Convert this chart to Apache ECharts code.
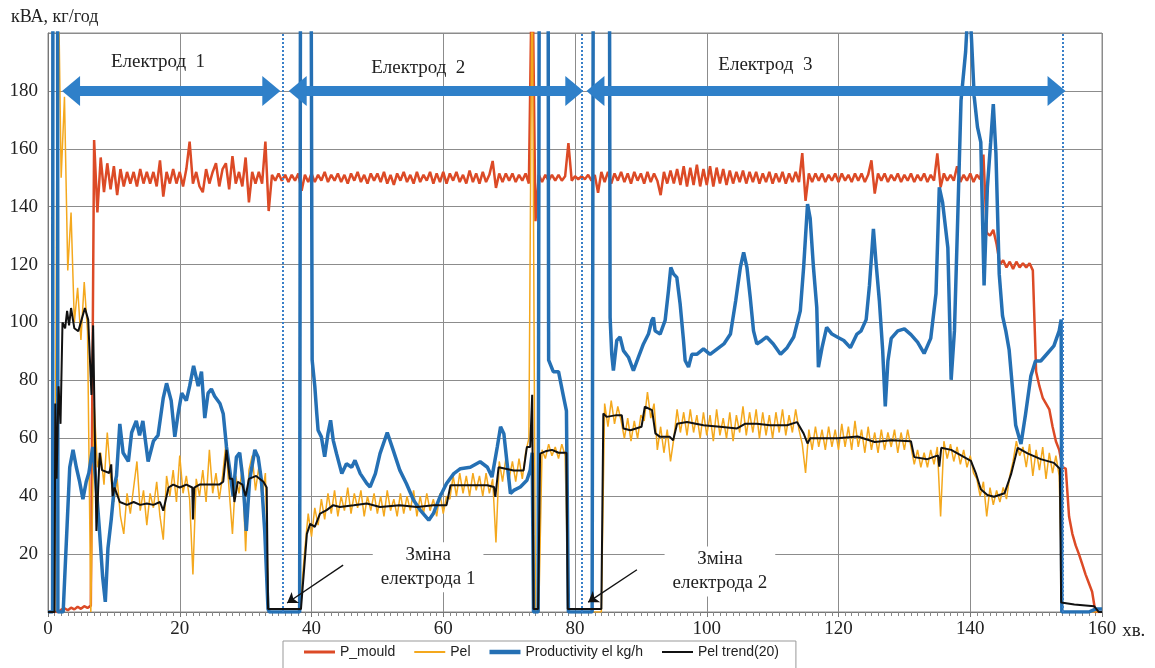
<!DOCTYPE html>
<html>
<head>
<meta charset="utf-8">
<title>Електроди</title>
<script src="https://cdn.jsdelivr.net/npm/echarts@6/dist/echarts.min.js"></script>
<style>
  html, body { margin: 0; padding: 0; background: #fff; }
  #main { width: 1155px; height: 668px; }
</style>
</head>
<body>
<div id="main"></div>
<script>
// time axis, minutes; Pel and P_mould are sampled every 0.5 min from 0 to 160
const sampleStep = 0.5;
const xMax = 160;
const yMax = 200;
const tickStep = 20;

// P_mould, one row = 5 min
const pMould = [
  0, 0, 0, 0, 0.8, 1.3, 0.6, 1.5, 0.9, 1.8,
  1.1, 2.0, 1.4, 2.2, 163, 138, 157, 145, 155, 146,
  154, 144, 153, 147, 152, 148, 152, 147, 153, 148,
  152, 148, 152, 147, 156, 143.5, 152, 148, 153, 148,
  152, 147, 153, 162.5, 148, 152, 147, 145, 153, 148,
  152, 155, 147, 153, 155, 146, 157.5, 148, 152, 147,
  157, 141.5, 152, 148, 152, 148, 162.5, 138.5, 151, 149,
  151.5, 149, 151, 148.5, 151, 149, 151.5, 145.5, 151, 148.5,
  151.5, 148.5, 151, 149, 152, 148.5, 151, 149, 151.5, 148.5,
  151, 148, 151.5, 149, 152, 148.5, 151, 148, 151.5, 149,
  151.5, 148.5, 152, 148, 151, 147.5, 151.5, 149, 152, 148.5,
  151, 148, 152, 148.5, 151, 149, 152, 148, 151.5, 148.5,
  152, 148, 151.5, 149, 152, 148.5, 151, 148, 152.5, 148.5,
  151.5, 148, 152, 148.5, 151, 155.8, 146.5, 151.5, 148.5, 151.5,
  149, 151.5, 148.5, 151, 149, 151.5, 148, 230, 135, 151,
  148.5, 151, 149, 151, 149, 151, 149, 150.5, 162, 149,
  150.5, 149.5, 150.5, 149.5, 151, 149, 151, 144.8, 152, 148.5,
  152, 148, 151.5, 149, 152, 148.5, 151.5, 148, 152, 149,
  151.5, 148, 152, 148.5, 151.5, 149, 144, 152, 148, 152.5,
  148, 153, 147.5, 154, 147, 153.5, 147.5, 154.5, 147, 153,
  147.5, 154, 147, 153.5, 148, 153, 147.5, 152.5, 148, 152,
  148.5, 152.5, 148, 152, 148.5, 152, 148, 151.5, 148.5, 152,
  148, 151.5, 148.5, 152, 148, 151.5, 148.5, 152, 148.5, 158.5,
  142, 151.5, 148.5, 151.5, 149, 151.5, 148.5, 151, 149, 151.5,
  148.5, 151.5, 149, 151, 148.5, 151.5, 149, 151.5, 148.5, 151,
  156, 144.5, 151.5, 149, 151.5, 148.5, 151, 149, 151.5, 148.5,
  151, 149, 151.5, 148.5, 151, 149, 151.5, 148.5, 151, 149,
  158.4, 146.7, 151.5, 149, 151, 149, 154, 148.5, 151, 149,
  151.5, 148.5, 151, 149.5, 158, 131, 130, 132, 127, 120,
  121.5, 119, 121, 118.5, 121, 119, 120.5, 119, 120.5, 118,
  83, 78, 74, 72, 70, 64, 59, 56, 50, 49.5,
  33, 27, 23, 20, 16.5, 13, 10, 7, 0, 0,
  0
];

// Pel, one row = 5 min
const pel = [
  0, 0, 0, 230, 150, 178, 118, 138, 100, 112,
  94, 114, 97, 0, 72, 50, 55, 44, 62, 47,
  38, 46, 33, 27, 41, 34, 43, 52, 35, 42,
  30, 41, 36, 45, 33, 25, 47, 40, 49, 38,
  54, 41, 47, 39, 13, 46, 40, 49, 38, 56,
  41, 48, 39, 47, 58, 42, 27, 47, 41, 50,
  21, 49, 54, 42, 50, 40, 48, 0, 0, 0,
  0, 0, 0, 0, 0, 0, 0, 8, 22, 34,
  26, 36, 30, 39, 32, 41, 34, 42, 33, 40,
  35, 43, 34, 41, 36, 42, 33, 40, 35, 41,
  34, 40, 33, 42, 35, 39, 33, 41, 34, 40,
  35, 42, 33, 40, 34, 41, 35, 39, 33, 41,
  34, 40, 39, 47, 40, 48, 41, 47, 40, 48,
  42, 47, 40, 48, 41, 46, 24, 52, 45, 53,
  46, 52, 45, 53, 46, 55, 60, 230, 0, 0,
  56, 53, 58, 54, 57, 53, 58, 54, 0, 0,
  0, 0, 0, 0, 0, 0, 0, 0, 0, 72,
  64, 73, 65, 71, 66, 60, 67, 59, 66, 60,
  68, 66, 76, 67, 72, 56, 64, 55, 63, 52,
  60, 70, 62, 69, 61, 70, 62, 68, 60, 69,
  61, 68, 59, 70, 61, 67, 60, 69, 59, 68,
  62, 71, 61, 69, 62, 70, 60, 69, 61, 68,
  60, 69, 62, 70, 61, 68, 62, 70, 63, 58,
  48, 63, 56, 64, 57, 63, 56, 64, 57, 63,
  56, 65, 57, 64, 56, 66, 57, 63, 55, 64,
  56, 62, 55, 63, 56, 62, 57, 63, 55, 62,
  56, 63, 57, 51, 56, 50, 55, 50, 56, 51,
  57, 33, 59, 53, 58, 52, 57, 51, 56, 50,
  54, 48, 46, 40, 45, 33, 43, 37, 42, 38,
  43, 39, 47, 52, 59, 54, 57, 50, 58, 47,
  56, 49, 57, 46, 55, 48, 54, 47, 0, 0,
  0, 0, 0, 0, 0, 0, 0, 0, 0, 0,
  0
];

// Productivity el kg/h  [min, kg/h]  (values above 200 run off the top)
const productivity = [
  [0, 0], [0.7, 0], [0.75, 260], [1.45, 260], [1.5, 0], [2.3, 0], [2.9, 30], [3.3, 50], [3.8, 56],
  [4.3, 50], [4.8, 45], [5.3, 39], [5.8, 45], [6.2, 48], [6.8, 57], [7.3, 44], [7.85, 27], [8.3, 12],
  [8.7, 3.5], [9.1, 22], [9.6, 32], [10.1, 44], [10.4, 47], [10.9, 65], [11.4, 55], [12.2, 52],
  [12.7, 62], [13.4, 66], [13.9, 61], [14.4, 66], [15.2, 52], [16, 59], [16.7, 61], [17.5, 74],
  [18, 79], [18.7, 73], [19.25, 60.5], [19.75, 68.5], [20.3, 75.6], [21, 73], [21.5, 78], [22.1, 85],
  [22.8, 78], [23.3, 83], [23.8, 67], [24.3, 75.6], [24.8, 77], [25.3, 74.5], [26.1, 72], [26.6, 68.5],
  [27.1, 57], [27.6, 49], [28.1, 40], [28.6, 53.5], [29.1, 55], [29.6, 45.5], [30.1, 28], [30.6, 45.5],
  [31.4, 56], [31.9, 53.5], [32.4, 45.5], [32.9, 28], [33.4, 1], [33.6, 0],
  [38.2, 0], [38.35, 260], [39.9, 260], [40.1, 87], [40.5, 78], [40.8, 68.5], [41, 62.8], [41.5, 60.5],
  [42, 53.6], [42.5, 61.6], [42.9, 66.2], [43.3, 59.3], [43.8, 54.7], [44.6, 47.8], [45.3, 51.2],
  [46.1, 50], [46.6, 52.4], [47.4, 47.8], [48.4, 44.4], [48.9, 43.2], [49.7, 47.8], [50.4, 54.7],
  [51.5, 62], [52.4, 55.9], [53.4, 49], [54.4, 44.4], [55.5, 38.6], [56.5, 35.2], [57.8, 31.7],
  [58.5, 34], [59.5, 39.8], [60.5, 44.4], [61.6, 47.8], [62.6, 49.5], [64.1, 50], [65.6, 51.9],
  [66.7, 50], [67.4, 46.6], [68.2, 57], [68.7, 64], [69.2, 61.6], [69.7, 51.2], [70.2, 40.9],
  [70.7, 42], [71.7, 43.2], [72.7, 45.5], [73.2, 49], [73.5, 55], [73.7, 0], [74.4, 0], [74.6, 260],
  [75.9, 260], [76, 87], [76.7, 83], [77.5, 83], [78.2, 75], [78.7, 69.5], [79, 0],
  [82.6, 0], [82.8, 260], [85.2, 260], [85.33, 101.7], [85.58, 89], [85.83, 83.4], [86.34, 93.8],
  [86.84, 95], [87.35, 90.3], [88.11, 88], [88.87, 83.4], [89.63, 88], [90.39, 92.6], [91.15, 96],
  [91.66, 100.7], [91.91, 101.7], [92.16, 97.1], [92.92, 96], [93.68, 100.7], [94.19, 111],
  [94.54, 119], [94.95, 116.8], [95.45, 115.6], [95.96, 106.4], [96.47, 93.8], [96.72, 86.9],
  [97.23, 84.6], [97.73, 89], [98.49, 89], [99.5, 90.9], [100.5, 89], [101.6, 90.9], [102.6, 92.6],
  [103.6, 96], [104.4, 107.6], [105.1, 119], [105.6, 124.2], [106.1, 119], [106.6, 108.7],
  [107.1, 97.1], [107.6, 92.6], [108.4, 93.8], [109.1, 95], [110.1, 92.6], [111.2, 89], [112.2, 91.3],
  [113.2, 95], [114.2, 104], [114.7, 118.9], [115.3, 140.9], [115.7, 136], [116.2, 119], [116.7, 105.2],
  [116.95, 84.6], [117.5, 91.3], [118.2, 98.3], [119, 96], [119.8, 95], [120.8, 93.8], [121.8, 91.3],
  [122.8, 96], [123.4, 97], [124.2, 101], [124.7, 112.8], [125.3, 132.3], [125.7, 120.6],
  [126.2, 107.6], [126.7, 90.6], [127.1, 71], [127.5, 86.7], [128, 94.5], [129, 97.1], [130, 97.8],
  [131, 95.8], [132, 93.2], [133, 89.3], [134, 94.5], [134.8, 110], [135.3, 146.7], [135.8, 141.5],
  [136.6, 125.8], [137.1, 80.2], [137.6, 97.1], [138.1, 136.2], [138.6, 176.7], [139.3, 193.6],
  [139.8, 215], [140.2, 197.5], [140.6, 178], [141.1, 167.5], [141.6, 162.3], [142.1, 112.8],
  [142.6, 146.7], [143.1, 162.3], [143.5, 175.4], [143.9, 158.4], [144.4, 116.7], [144.9, 102.3],
  [145.4, 97.1], [145.9, 90.6], [146.4, 77.6], [146.9, 64.5], [147.7, 58], [148.4, 68.4],
  [149.2, 81.5], [149.9, 86.7], [150.7, 86.7], [151.7, 89.3], [152.7, 91.9], [153.5, 97.1],
  [153.8, 101], [153.9, 0], [158, 0], [159, 1], [160, 1]
];

// Pel trend(20)  [min, kVA]
const pelTrend = [
  [0, 0], [1.0, 0], [1.1, 72], [1.3, 46], [1.6, 78], [1.9, 65], [2.2, 100], [2.6, 98], [2.9, 104],
  [3.2, 99], [3.5, 105], [4.0, 98], [4.6, 97], [5.1, 101], [5.6, 105], [6.1, 101], [6.35, 88],
  [6.6, 75], [6.85, 99], [7.1, 63], [7.35, 28], [7.85, 55], [8.2, 49], [9.3, 48], [9.6, 51],
  [9.8, 40], [10.1, 43], [10.9, 38], [12, 37], [13, 38], [14, 37], [15, 37.5], [16, 37], [17, 38],
  [17.5, 35], [18.3, 43], [19, 44], [20, 43], [21, 44], [21.9, 43], [22.0, 32], [22.2, 43], [23, 44],
  [24, 44], [25, 44], [26, 44], [26.6, 45], [27.1, 56], [27.6, 46], [28.0, 46], [28.3, 38], [28.8, 45],
  [29.5, 44], [30, 40], [30.5, 46], [31.6, 47], [32.7, 45], [33.2, 43], [33.4, 1], [38.4, 1],
  [39.3, 27], [39.8, 30.5], [40.5, 29.4], [41.3, 34], [42.3, 35.2], [43.3, 36.9], [44.3, 36.3],
  [46.4, 36.9], [48.4, 37.5], [50.4, 36.3], [53.4, 36.9], [56, 36.3], [58.5, 36.9], [60.5, 36.9],
  [61.1, 43.8], [63.6, 43.8], [66.7, 43.8], [67.7, 43.2], [67.9, 39.8], [68.4, 50], [70.7, 48.9],
  [72.2, 48.9], [72.7, 57], [73.2, 57], [73.5, 75], [73.7, 1], [74.4, 1], [74.7, 54.7], [75.5, 55.5],
  [76.5, 56], [77.5, 55], [78.7, 55], [78.9, 1], [84.0, 1], [84.3, 68.6], [84.8, 67.4], [86.3, 68],
  [87.1, 68], [87.35, 63.4], [88.4, 62.8], [90.1, 64], [90.6, 70.9], [91.7, 69.7], [92.2, 61.7],
  [92.9, 60.5], [94.4, 60.5], [94.9, 59.3], [95.5, 65], [97, 65.6], [99.5, 64.5], [102, 64],
  [104.6, 63.4], [105.8, 65], [107.6, 65], [109.6, 64.5], [112.2, 64.5], [113.7, 65.6], [114.7, 61.7],
  [115.3, 58.2], [115.7, 60], [117.7, 60], [119.8, 60], [122.9, 60.6], [125.5, 58.7], [128, 59.3],
  [131, 59], [131.5, 53.5], [133.5, 52.8], [135.1, 54.1], [135.3, 50.2], [135.6, 56.7], [137.1, 56],
  [138.6, 54.1], [140.1, 52.2], [140.9, 47.6], [141.6, 42.4], [142.6, 40.4], [143.6, 39.8],
  [145.2, 41], [146.2, 47.6], [147.2, 56.7], [148.7, 54.8], [150.7, 52.8], [152.7, 51.5],
  [153.6, 49.5], [153.8, 3.3], [155.8, 2.6], [158.8, 2], [159.5, 0], [160, 0]
];

// annotations
const electrodeNames = ['Електрод  1', 'Електрод  2', 'Електрод  3'];
const electrodeSpans = [[2.2, 35.2], [36.6, 81.2], [81.8, 154.4]];
const electrodeLabelPos = [[16.7, 190], [56.2, 188], [108.9, 189]];
const arrowLevel = 180;
const changeTimes = [35.7, 81.1, 154.1];
const changeNotes = ['Зміна\nелектрода 1', 'Зміна\nелектрода 2'];
const changeNotePos = [[57.7, 15.5], [102, 14]];
const changePointers = [[[44.8, 16.2], [36.3, 3.1]], [[89.4, 14.6], [82, 3.4]]];

function sampled(values) {
  return values.map(function (v, i) { return [i * sampleStep, v]; });
}

const serif = 'Liberation Serif';
const gridColor = '#8c8c8c';
const headInset = 1.3; // arrow heads are centred on the end point

var chart = echarts.init(document.getElementById('main'), null, { renderer: 'canvas' });

var arrowData = electrodeSpans.map(function (s) {
  return [{ coord: [s[0] + headInset, arrowLevel] }, { coord: [s[1] - headInset, arrowLevel] }];
});
var dottedData = changeTimes.map(function (t) { return { xAxis: t }; });
var pointerData = changePointers.map(function (p) {
  return [{ coord: p[0] }, { coord: p[1] }];
});

var option = {
  animation: false,
  backgroundColor: '#fff',
  title: {
    text: 'кВА, кг/год',
    left: 6,
    top: 3,
    textStyle: { fontFamily: serif, fontSize: 18, fontWeight: 'normal', color: '#222' }
  },
  grid: {
    left: 48, right: 53, top: 33, bottom: 56,
    show: true, borderColor: gridColor, borderWidth: 1
  },
  legend: {
    // flat line icons of different thickness
    data: [
      { name: 'P_mould', icon: 'path://M0,0H31V3H0Z' },
      { name: 'Pel', icon: 'path://M0,0H31V2H0Z' },
      { name: 'Productivity el kg/h', icon: 'path://M0,0H31V4.5H0Z' },
      { name: 'Pel trend(20)', icon: 'path://M0,0H31V2H0Z' }
    ],
    left: 283,
    top: 641,
    padding: [4, 17, 14, 21],
    itemGap: 19,
    itemWidth: 31,
    itemHeight: 14,
    symbolKeepAspect: true,
    borderColor: '#999',
    borderWidth: 1,
    textStyle: { fontFamily: 'Liberation Sans', fontSize: 14, color: '#222' }
  },
  xAxis: {
    type: 'value',
    min: 0,
    max: xMax,
    interval: tickStep,
    name: 'хв.',
    nameLocation: 'end',
    nameGap: 20,
    nameTextStyle: { fontFamily: serif, fontSize: 19, color: '#222', verticalAlign: 'top', padding: [10, 0, 0, 0] },
    axisLine: { lineStyle: { color: '#777' } },
    axisTick: { show: true, length: 5, lineStyle: { color: '#777' } },
    minorTick: { show: true, splitNumber: 20, length: 4, lineStyle: { color: '#888' } },
    axisLabel: { fontFamily: serif, fontSize: 19, color: '#222', margin: 8 },
    splitLine: { show: true, lineStyle: { color: gridColor, width: 1 } }
  },
  yAxis: {
    type: 'value',
    min: 0,
    max: yMax,
    interval: tickStep,
    axisLine: { show: true, lineStyle: { color: '#777' } },
    axisTick: { show: false },
    axisLabel: {
      fontFamily: serif, fontSize: 19, color: '#222', margin: 10,
      showMinLabel: false, showMaxLabel: false
    },
    splitLine: { show: true, lineStyle: { color: gridColor, width: 1 } }
  },
  series: [
    {
      name: 'P_mould', type: 'line', data: sampled(pMould),
      showSymbol: false, symbol: 'none', z: 2,
      lineStyle: { color: '#dc4a26', width: 2.5 }, itemStyle: { color: '#dc4a26' }
    },
    {
      name: 'Pel', type: 'line', data: sampled(pel),
      showSymbol: false, symbol: 'none', z: 3,
      lineStyle: { color: '#f4a81d', width: 1.5 }, itemStyle: { color: '#f4a81d' }
    },
    {
      name: 'Productivity el kg/h', type: 'line', data: productivity,
      showSymbol: false, symbol: 'none', z: 4,
      lineStyle: { color: '#2570b4', width: 3.5 }, itemStyle: { color: '#2570b4' }
    },
    {
      name: 'Pel trend(20)', type: 'line', data: pelTrend,
      showSymbol: false, symbol: 'none', z: 5,
      lineStyle: { color: '#111', width: 2 }, itemStyle: { color: '#111' }
    },
    {
      // dotted lines at the electrode changes
      name: 'marks', type: 'line', data: [], z: 6,
      markLine: {
        silent: true,
        animation: false,
        symbol: ['none', 'none'],
        label: { show: false },
        lineStyle: { color: '#3a80c8', width: 2, type: 'dotted' },
        data: dottedData
      }
    },
    {
      name: 'arrows', type: 'line', data: [], z: 7,
      markLine: {
        silent: true,
        animation: false,
        symbol: ['triangle', 'triangle'],
        symbolSize: [30, 18],
        label: { show: false },
        lineStyle: { color: '#2f80c9', width: 10, type: 'solid', opacity: 1 },
        itemStyle: { color: '#2f80c9' },
        data: arrowData
      },
      markPoint: {
        silent: true,
        animation: false,
        symbol: 'rect',
        symbolSize: 1,
        itemStyle: { color: 'rgba(0,0,0,0)' },
        label: {
          show: true, position: 'inside', formatter: '{b}',
          fontFamily: serif, fontSize: 19, color: '#222'
        },
        data: electrodeNames.map(function (n, i) { return { name: n, coord: electrodeLabelPos[i] }; })
      }
    },
    {
      name: 'notes', type: 'line', data: [], z: 9,
      markLine: {
        silent: true,
        animation: false,
        symbol: ['none', 'arrow'],
        symbolSize: 10,
        label: { show: false },
        lineStyle: { color: '#111', width: 1.3, type: 'solid' },
        itemStyle: { color: '#111' },
        data: pointerData
      },
      markPoint: {
        silent: true,
        animation: false,
        symbol: 'rect',
        symbolSize: 1,
        itemStyle: { color: 'rgba(0,0,0,0)' },
        label: {
          show: true, position: 'inside', formatter: '{b}',
          fontFamily: serif, fontSize: 19, lineHeight: 24, color: '#222',
          backgroundColor: '#fff', padding: [1, 8], align: 'center'
        },
        data: changeNotes.map(function (n, i) { return { name: n, coord: changeNotePos[i] }; })
      }
    }
  ]
};

chart.setOption(option);
</script>
</body>
</html>
